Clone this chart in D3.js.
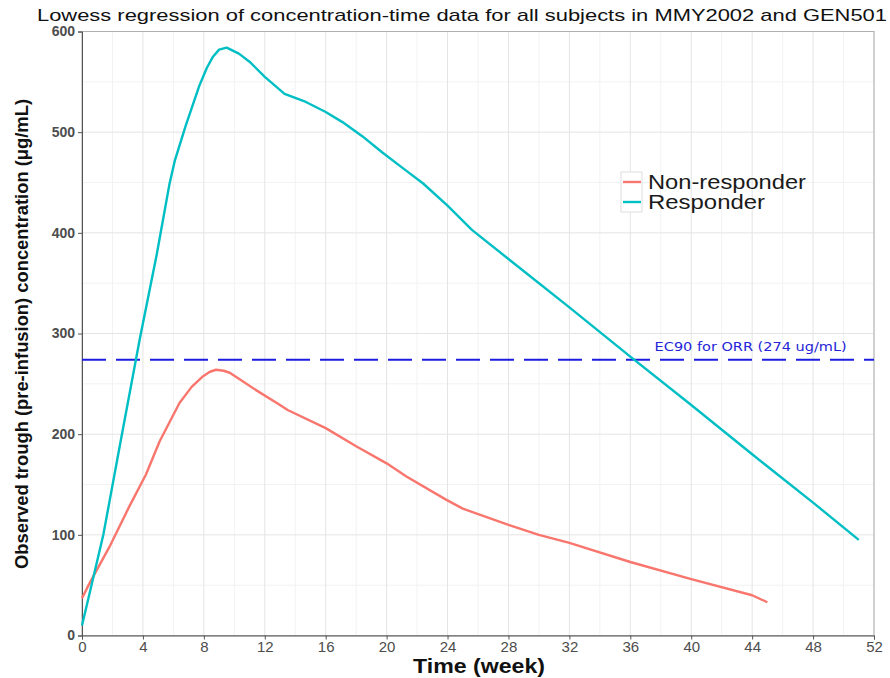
<!DOCTYPE html>
<meta charset="utf-8">
<head>
<style>
body { margin: 0; background: #fff; }
text { font-family: "Liberation Sans", Arial, sans-serif; }
.grid-major line { stroke: #e4e4e4; stroke-width: 1; }
.grid-minor line { stroke: #f2f2f2; stroke-width: 1; }
.tick text { fill: #4d4d4d; font-size: 15px; }
</style>
<script src="https://d3js.org/d3.v7.min.js"></script>
</head>
<body>
<svg width="890" height="678"></svg>
<script>

// Lowess curves: week, concentration (ug/mL)
var respWeek = [0, 0.5, 1.4, 2.5, 3.8, 4.9, 5.75, 6.1, 6.8, 7.7, 8.2, 8.6, 9.0, 9.5, 10.3, 11, 12, 13.3, 14.7, 16, 17.1, 18.4, 19.7, 21, 22.4, 24, 25.6, 28, 32, 36, 40, 44, 48, 51];
var respConc = [10, 42, 100, 190, 295, 378, 449, 472, 506, 546, 564, 575, 582, 584, 578, 570, 555, 538, 530, 520, 510, 496, 480, 465, 449, 427, 403, 374, 326, 277, 229, 180, 132, 95];

var nonWeek = [0, 0.5, 1.8, 3.1, 4.2, 5.1, 6.4, 7.2, 7.9, 8.4, 8.8, 9.3, 9.7, 10.5, 11.4, 13, 13.5, 16, 18, 20, 21.3, 23.9, 25, 28, 30, 32, 36, 40, 44, 45];
var nonConc = [37, 52, 88, 128, 160, 193, 231, 247, 257, 262, 264, 263, 261, 253, 244, 229, 224, 206, 188, 171, 158, 135, 126, 110, 100, 92, 73, 56, 40, 33];

var seriesNames = ["Non-responder", "Responder"];
var seriesColors = ["#F8766D", "#00BFC4"];

var ec90 = 274;
var ec90Label = "EC90 for ORR (274 ug/mL)";

var xTicks = d3.range(0, 53, 4);
var yTicks = [0, 100, 200, 300, 400, 500, 600];

var svg = d3.select("svg");
var x = d3.scaleLinear().domain([0, 52]).range([82, 874]);
var y = d3.scaleLinear().domain([0, 600]).range([635.5, 31.5]);

// grid
svg.append("g").attr("class", "grid-minor")
  .selectAll("line").data(d3.range(2, 52, 4)).enter().append("line")
  .attr("x1", d => x(d)).attr("x2", d => x(d)).attr("y1", y(0)).attr("y2", y(600));
svg.append("g").attr("class", "grid-minor")
  .selectAll("line").data(d3.range(50, 600, 100)).enter().append("line")
  .attr("x1", x(0)).attr("x2", x(52)).attr("y1", d => y(d)).attr("y2", d => y(d));
svg.append("g").attr("class", "grid-major")
  .selectAll("line").data(xTicks).enter().append("line")
  .attr("x1", d => x(d)).attr("x2", d => x(d)).attr("y1", y(0)).attr("y2", y(600));
svg.append("g").attr("class", "grid-major")
  .selectAll("line").data(yTicks).enter().append("line")
  .attr("x1", x(0)).attr("x2", x(52)).attr("y1", d => y(d)).attr("y2", d => y(d));

// panel border (top / right)
svg.append("rect")
  .attr("x", x(0)).attr("y", y(600))
  .attr("width", x(52) - x(0)).attr("height", y(0) - y(600))
  .attr("fill", "none").attr("stroke", "#b0b0b0");

// axes
var xAxis = svg.append("g").attr("transform", "translate(0," + y(0) + ")")
  .call(d3.axisBottom(x).tickValues(xTicks).tickSize(4).tickPadding(2));
var yAxis = svg.append("g").attr("transform", "translate(" + x(0) + ",0)")
  .call(d3.axisLeft(y).tickValues(yTicks).tickSize(4).tickPadding(3));
xAxis.select(".domain").attr("stroke", "#555");
yAxis.select(".domain").attr("stroke", "#555");
svg.selectAll(".tick line").attr("stroke", "#555");
yAxis.selectAll("text").style("font-weight", "bold").style("font-size", "14px");

// ec90 reference line
svg.append("line")
  .attr("x1", x(0)).attr("x2", x(52)).attr("y1", y(ec90)).attr("y2", y(ec90))
  .attr("stroke", "#1c1ce0").attr("stroke-width", 2).attr("stroke-dasharray", "24,10");
svg.append("text")
  .attr("x", x(43.9)).attr("y", y(ec90) - 9)
  .attr("text-anchor", "middle")
  .attr("textLength", 192).attr("lengthAdjust", "spacingAndGlyphs")
  .style("font-family", "DejaVu Sans, Verdana, sans-serif")
  .style("font-size", "13px").attr("fill", "#2424d8")
  .text(ec90Label);

// curves
var line = d3.line().x(d => x(d[0])).y(d => y(d[1]));
var curves = [d3.zip(nonWeek, nonConc), d3.zip(respWeek, respConc)];
svg.append("g").selectAll("path").data(curves).enter().append("path")
  .attr("d", line)
  .attr("fill", "none")
  .attr("stroke", (d, i) => seriesColors[i])
  .attr("stroke-width", 2.4)
  .attr("stroke-linejoin", "round");

// legend
var legendWidths = [158, 117];
var legend = svg.append("g").attr("transform", "translate(621,172)");
legend.append("rect").attr("x", 0).attr("y", 0).attr("width", 21).attr("height", 40)
  .attr("fill", "#fff").attr("stroke", "#dddddd");
var item = legend.selectAll("g").data(seriesNames).enter().append("g")
  .attr("transform", (d, i) => "translate(0," + (10 + i * 20) + ")");
item.append("line").attr("x1", 2).attr("x2", 20).attr("y1", 0).attr("y2", 0)
  .attr("stroke", (d, i) => seriesColors[i]).attr("stroke-width", 2.4);
item.append("text").attr("x", 27).attr("y", 7)
  .attr("textLength", (d, i) => legendWidths[i]).attr("lengthAdjust", "spacingAndGlyphs")
  .style("font-size", "20px").attr("fill", "#1a1a1a")
  .text(d => d);

// titles
svg.append("text").attr("x", 462).attr("y", 21).attr("text-anchor", "middle")
  .attr("textLength", 850).attr("lengthAdjust", "spacingAndGlyphs")
  .style("font-size", "17px").attr("fill", "#111")
  .text("Lowess regression of concentration-time data for all subjects in MMY2002 and GEN501");
svg.append("text").attr("x", 479).attr("y", 673).attr("text-anchor", "middle")
  .attr("textLength", 132).attr("lengthAdjust", "spacingAndGlyphs")
  .style("font-size", "20px").style("font-weight", "bold").attr("fill", "#111")
  .text("Time (week)");
svg.append("text")
  .attr("transform", "translate(28,334) rotate(-90)")
  .attr("text-anchor", "middle")
  .attr("textLength", 470).attr("lengthAdjust", "spacingAndGlyphs")
  .style("font-size", "18px").style("font-weight", "bold").attr("fill", "#111")
  .text("Observed trough (pre-infusion) concentration (\u03bcg/mL)");

</script>
</body>
